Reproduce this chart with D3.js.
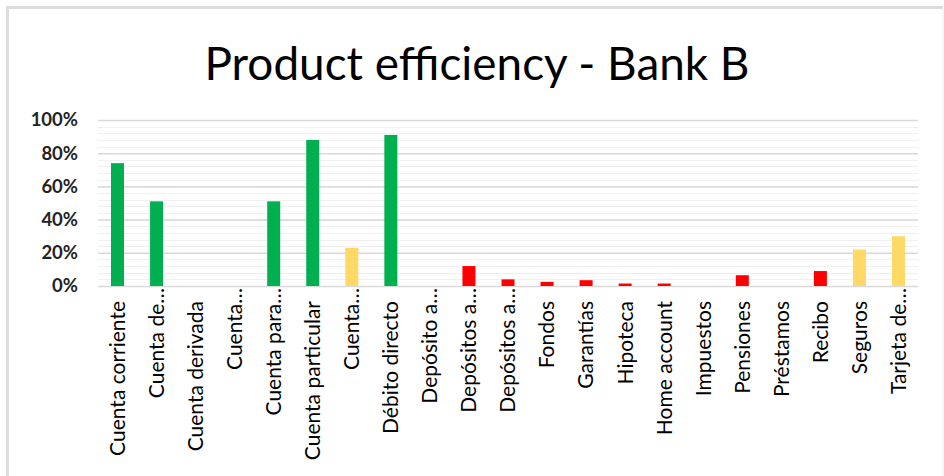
<!DOCTYPE html>
<html>
<head>
<meta charset="utf-8">
<script src="https://cdn.jsdelivr.net/npm/d3@7"></script>
<style>
  html, body { margin: 0; padding: 0; background: #fff; }
  svg { display: block; }
</style>
</head>
<body>
<svg id="chart" width="944" height="476"></svg>
<script>
const title = "Product efficiency - Bank B";
const categories = ["Cuenta corriente", "Cuenta de…", "Cuenta derivada", "Cuenta…", "Cuenta para…",
  "Cuenta particular", "Cuenta…", "Débito directo", "Depósito a…", "Depósitos a…", "Depósitos a…",
  "Fondos", "Garantías", "Hipoteca", "Home account", "Impuestos", "Pensiones", "Préstamos",
  "Recibo", "Seguros", "Tarjeta de…"];
const values = [0.74, 0.51, 0, 0, 0.51, 0.88, 0.23, 0.91, 0, 0.12, 0.04, 0.025, 0.035, 0.015,
  0.015, 0, 0.065, 0, 0.09, 0.22, 0.30];
const status = ["good", "good", "none", "none", "good", "good", "medium", "good", "none", "bad", "bad",
  "bad", "bad", "bad", "bad", "none", "bad", "none", "bad", "medium", "medium"];
const yTicks = [0, 0.2, 0.4, 0.6, 0.8, 1.0];
const yMinorTicks = d3.range(0, 1.0001, 0.04);

const data = categories.map((c, i) => ({ key: i, name: c, value: values[i], status: status[i] }));

const svg = d3.select("#chart");
const font = "Lato, 'Open Sans', sans-serif";

// frame
svg.append("path").attr("d", "M7.5,480 V7.5 H943").attr("fill", "none")
  .attr("stroke", "#dcdcdc").attr("stroke-width", 3);
svg.append("line").attr("x1", 943).attr("x2", 943).attr("y1", 7).attr("y2", 476)
  .attr("stroke", "#efefef").attr("stroke-width", 1);

const x = d3.scaleBand().domain(data.map(d => d.key)).range([98, 918])
  .paddingInner(0.667).paddingOuter(0.333);
const y = d3.scaleLinear().domain([0, 1]).range([286, 120]);
const color = d3.scaleOrdinal().domain(["good", "medium", "bad", "none"])
  .range(["#00B050", "#FFD966", "#FF0000", "#cccccc"]);

// title
svg.append("text").attr("x", 477).attr("y", 80).attr("text-anchor", "middle")
  .attr("font-family", font).attr("font-size", 47).attr("fill", "#000")
  .attr("textLength", 545).attr("lengthAdjust", "spacingAndGlyphs")
  .text(title);

// minor gridlines
svg.append("g").selectAll("line").data(yMinorTicks).join("line")
  .attr("x1", 98).attr("x2", 918)
  .attr("y1", d => Math.round(y(d)) + 0.5).attr("y2", d => Math.round(y(d)) + 0.5)
  .attr("stroke", "#f0f0f0").attr("stroke-width", 1);

// y axis with major gridlines
const yAxis = d3.axisLeft(y).tickValues(yTicks).tickFormat(d3.format(".0%"))
  .tickSize(-820).tickPadding(20);
const gy = svg.append("g").attr("transform", "translate(98,0)").call(yAxis);
gy.select(".domain").remove();
gy.selectAll(".tick line").attr("stroke", "#d9d9d9").attr("stroke-width", 1.5);
gy.selectAll(".tick text").attr("font-family", font).attr("font-size", 18.5)
  .attr("font-weight", "bold").attr("fill", "#222").attr("x", -20);

// bars
svg.append("g").selectAll("rect").data(data.filter(d => d.value > 0)).join("rect")
  .attr("x", d => x(d.key)).attr("width", x.bandwidth())
  .attr("y", d => y(d.value)).attr("height", d => y(0) - y(d.value))
  .attr("fill", d => color(d.status));

// category labels
const xAxis = d3.axisBottom(x).tickSize(0).tickFormat(k => categories[k]);
const gx = svg.append("g").attr("transform", "translate(0,286)").call(xAxis);
gx.select(".domain").remove();
gx.selectAll(".tick text")
  .attr("font-family", font).attr("font-size", 21).attr("fill", "#000")
  .attr("text-anchor", "end")
  .attr("transform", "rotate(-90)")
  .attr("x", k => categories[k].endsWith("…") ? -2 : -15)
  .attr("y", 0).attr("dy", "0.35em");
</script>
</body>
</html>
